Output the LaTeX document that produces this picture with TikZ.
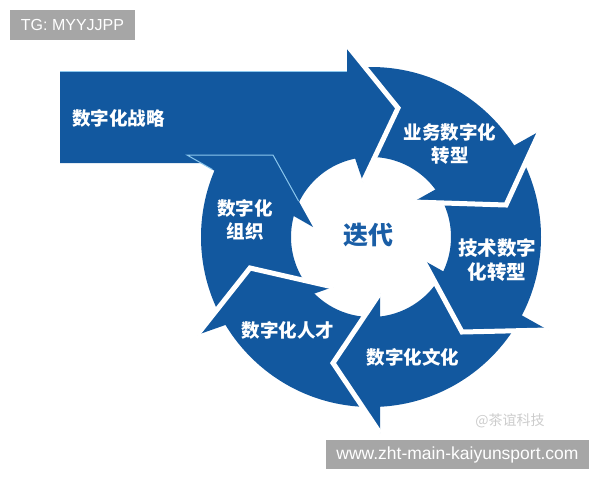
\documentclass[tikz,border=0pt]{standalone}
\usepackage{fontspec}
\newfontfamily\cjk{Noto Sans CJK SC}
\newfontfamily\lsans{Liberation Sans}
\usetikzlibrary{calc}
\definecolor{arrowblue}{HTML}{12589F}
\definecolor{edgeblue}{HTML}{8CC8EE}
\definecolor{markgray}{HTML}{A6A6A6}
\definecolor{diedai}{HTML}{1A5EA6}
\begin{document}
\begin{tikzpicture}[x=1pt,y=-1pt,
  blueshape/.style={fill=arrowblue},
  gapline/.style={draw=white,line width=5pt,line join=miter},
  glowline/.style={draw=edgeblue,line width=1pt},
  lab/.style={text=white,font=\cjk\bfseries\fontsize{18.5}{23}\selectfont,align=center,inner sep=0pt},
  markbox/.style={fill=markgray,text=white,inner sep=0pt}
]
\useasboundingbox (0,0) rectangle (600,480);
\coordinate (C) at (371,237);
% arrow heads: outer barb, tip, inner barb
\coordinate (So) at (347,45);  \coordinate (St) at (398,108); \coordinate (Si) at (363,182);
\coordinate (Bo) at (540,131); \coordinate (Bt) at (506,205); \coordinate (Bi) at (413,202);
\coordinate (To) at (548,330); \coordinate (Tt) at (462,332); \coordinate (Ti) at (423,260);
\coordinate (Wo) at (380,433); \coordinate (Wt) at (333,363); \coordinate (Wi) at (380,293);
\coordinate (Ro) at (197,335); \coordinate (Rt) at (250,268); \coordinate (Ri) at (333,287);
\coordinate (Oo) at (187,155); \coordinate (Oc) at (273,155); \coordinate (Oi) at (313,227);
% far points
\coordinate (f1) at ($(C)+(-97.1:500)$);
\coordinate (f2) at ($(C)+(-65:500)$);
\coordinate (f3) at ($(C)+(-32.1:500)$);
\coordinate (f4) at ($(C)+(-2:500)$);
\coordinate (f5) at ($(C)+(27.7:500)$);
\coordinate (f6) at ($(C)+(57:500)$);
\coordinate (f7) at ($(C)+(87.4:500)$);
\coordinate (f8) at ($(C)+(119:500)$);
\coordinate (f9) at ($(C)+(150.6:500)$);
\coordinate (f10) at ($(C)+(177:500)$);
\coordinate (f11) at ($(C)+(204:500)$);

% strategy arrow
\fill[blueshape] (60,71) -- (347,71) -- (So) -- (St) -- (Si) -- ($(C)+(-101.4:80)$)
  arc[start angle=-101.4, end angle=-156, radius=80] -- (273,163) -- (60,163) -- cycle;
\draw[glowline] (60,71) -- (347,71);

% ring bodies
\begin{scope}
  \clip (C) -- (Si) -- (St) -- (So) -- (f1) -- (f2) -- (f3) -- (Bo) -- (Bt) -- (Bi) -- cycle;
  \fill[blueshape,even odd rule] (C) circle[radius=170] (C) circle[radius=80];
\end{scope}
\begin{scope}
  \clip (C) -- (Bi) -- (Bt) -- (Bo) -- (f3) -- (f4) -- (f5) -- (To) -- (Tt) -- (Ti) -- cycle;
  \fill[blueshape,even odd rule] (C) circle[radius=170] (C) circle[radius=80];
\end{scope}
\begin{scope}
  \clip (C) -- (Ti) -- (Tt) -- (To) -- (f5) -- (f6) -- (f7) -- (Wo) -- (Wt) -- (Wi) -- cycle;
  \fill[blueshape,even odd rule] (C) circle[radius=170] (C) circle[radius=80];
\end{scope}
\begin{scope}
  \clip (C) -- (Wi) -- (Wt) -- (Wo) -- (f7) -- (f8) -- (f9) -- (Ro) -- (Rt) -- (Ri) -- cycle;
  \fill[blueshape,even odd rule] (C) circle[radius=170] (C) circle[radius=80];
\end{scope}
\begin{scope}
  \clip (C) -- (Ri) -- (Rt) -- (Ro) -- (f9) -- (f10) -- (f11) -- (Oo) -- (Oc) -- (Oi) -- cycle;
  \fill[blueshape,even odd rule] (C) circle[radius=170] (C) circle[radius=80];
\end{scope}

% heads
\fill[blueshape] (Bo) -- (Bt) -- (Bi) -- cycle;
\fill[blueshape] (To) -- (Tt) -- (Ti) -- cycle;
\fill[blueshape] (Wo) -- (Wt) -- (Wi) -- cycle;
\fill[blueshape] (Ro) -- (Rt) -- (Ri) -- cycle;
\fill[blueshape] (Oo) -- (Oc) -- (Oi) -- cycle;
\draw[glowline] ($(Oo)!0.2!(Oi)$) -- (Oo) -- (Oc) -- ($(Oc)!0.64!(Oi)$);

% white gaps
\draw[gapline] (So) -- (St) -- (Si);
\draw[gapline] (Bo) -- (Bt) -- (Bi);
\draw[gapline] (To) -- (Tt) -- (Ti);
\draw[gapline] (Wo) -- (Wt) -- (Wi);
\draw[gapline] (Ro) -- (Rt) -- (Ri);

% labels
\node[lab] (strat) at (118.5,118) {数字化战略};
\node[lab] (biz) at (450,143.5) {业务数字化\\转型};
\node[lab,font=\cjk\bfseries\fontsize{19.5}{24}\selectfont] (tech) at (497,260) {技术数字\\化转型};
\node[lab] (org) at (245,220) {数字化\\组织};
\node[lab] (talent) at (288,330) {数字化人才};
\node[lab] (cult) at (413,357) {数字化文化};
\node[text=diedai,font=\cjk\bfseries\fontsize{25}{25}\selectfont,inner sep=0pt] (iter) at (368,235) {迭代};

% watermarks
\node[text=gray!40,font=\cjk\fontsize{14}{14}\selectfont,inner sep=0pt] (src) at (510,421) {@茶谊科技};
\node[markbox,minimum width=125pt,minimum height=30pt,font=\lsans\fontsize{16}{16}\selectfont] (tg) at (72.5,25) {TG: MYYJJPP};
\node[markbox,minimum width=263pt,minimum height=29pt,font=\lsans\fontsize{17.5}{17.5}\selectfont] (url) at (457.5,454.5) {www.zht-main-kaiyunsport.com};
\end{tikzpicture}
\end{document}
